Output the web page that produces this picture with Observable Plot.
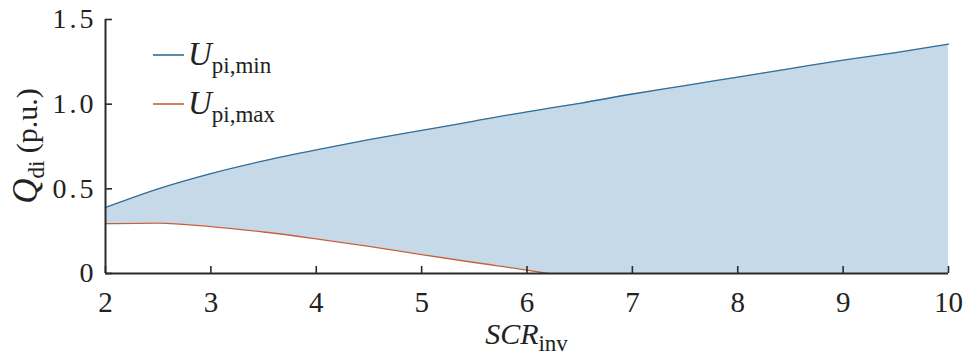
<!DOCTYPE html>
<html>
<head>
<meta charset="utf-8">
<script src="https://cdn.jsdelivr.net/npm/d3@7"></script>
<script src="https://cdn.jsdelivr.net/npm/@observablehq/plot@0.6"></script>
<style>
  html, body { margin: 0; padding: 0; background: #fff; }
  #chart { width: 965px; height: 363px; }
</style>
</head>
<body>
<div id="chart"></div>
<script>
// Data
const scr = [2, 2.5, 3, 3.5, 4, 4.5, 5, 5.5, 6, 6.2, 6.5, 7, 7.5, 8, 8.5, 9, 9.5, 10];
const qMin = [0.39, 0.50, 0.59, 0.665, 0.73, 0.79, 0.845, 0.90, 0.955, 0.975, 1.005, 1.06, 1.11, 1.16, 1.21, 1.26, 1.305, 1.355];
const qMax = [0.295, 0.298, 0.277, 0.245, 0.205, 0.16, 0.112, 0.065, 0.02, 0, 0, 0, 0, 0, 0, 0, 0, 0];
const xTicks = [2, 3, 4, 5, 6, 7, 8, 9, 10];
const yTicks = [0, 0.5, 1.0, 1.5];
const yTickLabels = ["0", "0.5", "1.0", "1.5"];

const blue = "#336d98";
const orange = "#c4603e";
const fillC = "#c6d9e9";
const axisC = "#2a2a2a";

const rows = scr.map((x, i) => ({x, lo: qMax[i], hi: qMin[i]}));
const loRows = rows.filter(d => d.x <= 6.2);

const W = 965, H = 363;
const mL = 105, mR = 17, mT = 19, mB = 90;
const font = "Liberation Serif";

const plot = Plot.plot({
  width: W,
  height: H,
  marginLeft: mL,
  marginRight: mR,
  marginTop: mT,
  marginBottom: mB,
  style: {fontFamily: font, fontSize: "29px", color: "#222", background: "#fff"},
  x: {domain: [2, 10], label: null},
  y: {domain: [0, 1.5], label: null},
  marks: [
    Plot.areaY(rows, {x: "x", y1: "lo", y2: "hi", fill: fillC, fillOpacity: 1}),
    Plot.line(rows, {x: "x", y: "hi", stroke: blue, strokeWidth: 1.3, curve: "monotone-x"}),
    Plot.line(loRows, {x: "x", y: "lo", stroke: orange, strokeWidth: 1.3, curve: "monotone-x"}),
    Plot.ruleY([0], {stroke: axisC, strokeWidth: 2}),
    Plot.ruleX([2], {stroke: axisC, strokeWidth: 2}),
    Plot.axisX({ticks: xTicks, tickSize: 0, tickPadding: 18, tickFormat: d => String(d), fontSize: 29}),
    Plot.axisX({ticks: xTicks, tickSize: -7, tickFormat: () => "", stroke: axisC, strokeWidth: 1.6}),
    Plot.axisY({ticks: yTicks, tickSize: 0, tickPadding: 9, tickFormat: d => yTickLabels[yTicks.indexOf(d)], fontSize: 28}),
    Plot.axisY({ticks: yTicks, tickSize: -7, tickFormat: () => "", stroke: axisC, strokeWidth: 1.6})
  ]
});

document.getElementById("chart").appendChild(plot);

const svg = d3.select(plot);
svg.selectAll('g[aria-label="y-axis tick label"] text').attr("letter-spacing", 3);
const sx = plot.scale("x"), sy = plot.scale("y");

// x-axis title
const xMid = (sx.apply(2) + sx.apply(10)) / 2;
const xt = svg.append("text")
  .attr("x", xMid).attr("y", H - 19)
  .attr("text-anchor", "middle")
  .attr("font-family", font).attr("fill", "#222");
xt.append("tspan").attr("font-style", "italic").attr("font-size", 30).text("SCR");
xt.append("tspan").attr("font-size", 23).attr("dy", 7).text("inv");

// y-axis title
const yMid = (sy.apply(0) + sy.apply(1.5)) / 2;
const yt = svg.append("text")
  .attr("transform", `translate(37,${yMid}) rotate(-90)`)
  .attr("text-anchor", "middle")
  .attr("font-family", font).attr("fill", "#222");
yt.append("tspan").attr("font-style", "italic").attr("font-size", 35).text("Q");
yt.append("tspan").attr("font-size", 23).attr("dy", 7).text("di");
yt.append("tspan").attr("font-size", 30).attr("dy", -7).text(" (p.u.)");

// legend
const legend = [
  {sub: "pi,min", color: blue},
  {sub: "pi,max", color: orange}
];
legend.forEach((d, i) => {
  const ly = 55 + i * 49;
  const lx = mL + 48;
  svg.append("line")
    .attr("x1", lx).attr("x2", lx + 31)
    .attr("y1", ly).attr("y2", ly)
    .attr("stroke", d.color).attr("stroke-width", 1.6);
  const t = svg.append("text")
    .attr("x", lx + 35).attr("y", ly + 10)
    .attr("text-anchor", "start")
    .attr("font-family", font).attr("fill", "#222");
  t.append("tspan").attr("font-style", "italic").attr("font-size", 33).text("U");
  t.append("tspan").attr("font-size", 23).attr("dy", 8).text(d.sub);
});
</script>
</body>
</html>
